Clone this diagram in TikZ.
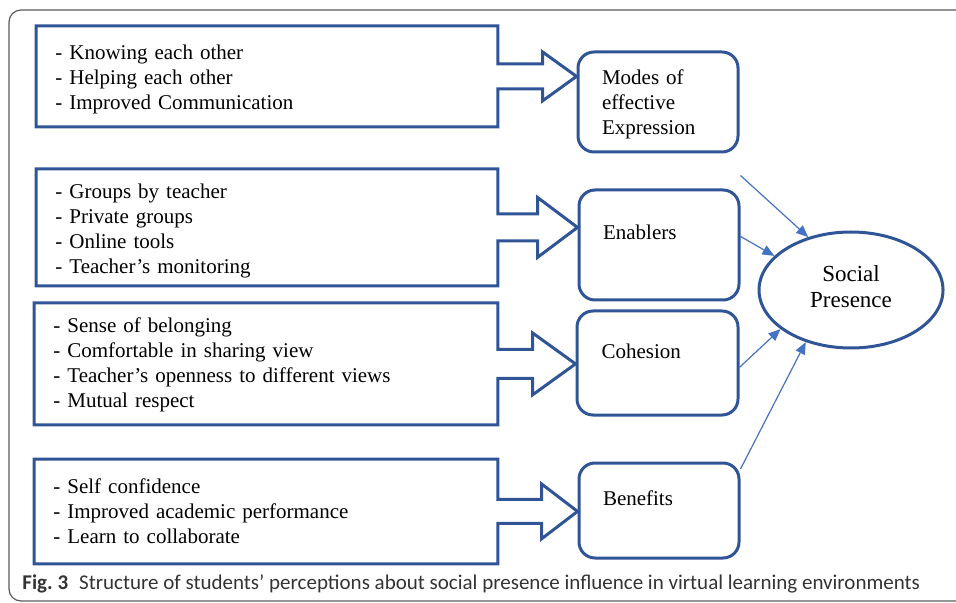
\documentclass[tikz,border=0pt]{standalone}
\usepackage{fontspec}
\setmainfont{Liberation Serif}
\newfontfamily\capfont{Carlito}
\usepackage{tikz}
\usetikzlibrary{shapes.geometric,arrows.meta,positioning,calc}
\definecolor{boxblue}{HTML}{2F5597}
\definecolor{linkblue}{HTML}{4472C4}
\definecolor{framegray}{HTML}{5A5A5A}
\definecolor{capgray}{HTML}{333333}

\begin{document}
\begin{tikzpicture}[x=0.5pt, y=-0.5pt,
  cline/.style={draw=boxblue, line width=1.5pt},
  listbox/.style={anchor=north west, inner xsep=9.5pt, inner ysep=0pt, align=left,
                  font=\fontsize{10.5}{12.5}\selectfont},
  theme/.style={draw=boxblue, line width=1.5pt, rounded corners=8pt, minimum width=80pt,
                inner xsep=12pt, text width=56pt, align=left,
                font=\fontsize{10.5}{12.5}\selectfont},
  lift/.style={text height=8pt, text depth=13pt},
  link/.style={draw=linkblue, line width=0.6pt, -{Triangle[length=6pt,width=5pt]}}]
  \useasboundingbox (0,0) rectangle (956,603);
  \begin{scope}
    \clip (0,0) rectangle (956,603);
    \draw[framegray, line width=0.6pt, rounded corners=6pt] (9,10) rectangle (990,601);
  \end{scope}

  % the four themes
  \node[theme, text height=10.2pt, minimum height=50pt] (mo) at (658,102) {Modes of\\effective\\Expression};
  \node[theme, lift, minimum height=55pt] (en) at (659,245) {Enablers};
  \node[theme, lift, minimum height=52pt, minimum width=80.5pt] (co) at (657.5,363) {Cohesion};
  \node[theme, lift, minimum height=47.5pt] (be) at (659,510.5) {Benefits};

  % lists of perceptions
  \node[listbox, minimum width=230.5pt, text width=211.5pt, text height=10.2pt, minimum height=50pt] (c1) at (36,26)
    {- Knowing each other\\- Helping each other\\- Improved Communication};
  \node[listbox, minimum width=230.5pt, text width=211.5pt, text height=10.7pt, minimum height=58pt] (c2) at (36,169)
    {- Groups by teacher\\- Private groups\\- Online tools\\- Teacher’s monitoring};
  \node[listbox, minimum width=231.5pt, text width=212.5pt, text height=8.2pt, minimum height=60.5pt] (c3) at (34,303)
    {- Sense of belonging\\- Comfortable in sharing view\\- Teacher’s openness to different views\\- Mutual respect};
  \node[listbox, minimum width=231.5pt, text width=212.5pt, minimum height=52pt] (c4) at (34,459)
    {- Self confidence\\- Improved academic performance\\- Learn to collaborate};

  % callout outlines
  \coordinate (t1) at (c1.east -| mo.west);
  \coordinate (t2) at (c2.east -| en.west);
  \coordinate (t3) at (c3.east -| co.west);
  \coordinate (t4) at (c4.east -| be.west);
  \draw[cline] ($(c1.east)+(0,-12.5)$) -- (c1.north east) -- (c1.north west) -- (c1.south west)
    -- (c1.south east) -- ($(c1.east)+(0,12.5)$) -- ($(t1)+(-34,12.5)$) -- ($(t1)+(-34,24.5)$)
    -- (t1) -- ($(t1)+(-34,-24.5)$) -- ($(t1)+(-34,-12.5)$) -- cycle;
  \draw[cline] ($(c2.east)+(0,-13.5)$) -- (c2.north east) -- (c2.north west) -- (c2.south west)
    -- (c2.south east) -- ($(c2.east)+(0,13.5)$) -- ($(t2)+(-40,13.5)$) -- ($(t2)+(-40,30)$)
    -- (t2) -- ($(t2)+(-40,-30)$) -- ($(t2)+(-40,-13.5)$) -- cycle;
  \draw[cline] ($(c3.east)+(0,-14.5)$) -- (c3.north east) -- (c3.north west) -- (c3.south west)
    -- (c3.south east) -- ($(c3.east)+(0,14.5)$) -- ($(t3)+(-43,14.5)$) -- ($(t3)+(-43,31)$)
    -- (t3) -- ($(t3)+(-43,-31)$) -- ($(t3)+(-43,-14.5)$) -- cycle;
  \draw[cline] ($(c4.east)+(0,-12)$) -- (c4.north east) -- (c4.north west) -- (c4.south west)
    -- (c4.south east) -- ($(c4.east)+(0,12)$) -- ($(t4)+(-36,12)$) -- ($(t4)+(-36,27.5)$)
    -- (t4) -- ($(t4)+(-36,-27.5)$) -- ($(t4)+(-36,-12)$) -- cycle;

  \node[ellipse, draw=boxblue, line width=1.5pt, minimum width=92pt, minimum height=58pt,
        inner sep=0pt, align=center, text depth=3.2pt, font=\fontsize{11.5}{13}\selectfont] (sp) at (851,290)
    {Social\\Presence};

  \coordinate (m1) at ($(mo.south east)+(1,22)$);
  \draw[link] (m1) -- (sp.129);
  \draw[link] (en.6) -- (sp.156);
  \draw[link] (co.-3) -- (sp.209);
  \draw[link] (be.27) -- (sp.229);

  \node[anchor=base west, inner sep=0pt, text=capgray, font=\capfont\fontsize{10.5}{12}\selectfont]
    (cap) at (22,589) {\textbf{Fig.~3}\hspace{5.5pt}Structure of students’ perceptions about social presence influence in virtual learning environments};
\end{tikzpicture}
\end{document}
